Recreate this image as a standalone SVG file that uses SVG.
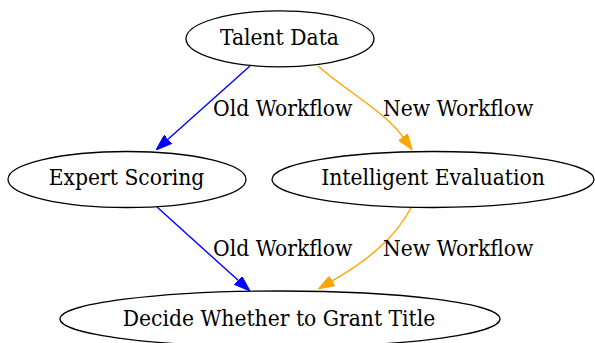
<svg xmlns="http://www.w3.org/2000/svg" width="595" height="343" viewBox="0 0 595 343">
  <style>
    .node ellipse { fill: none; stroke: #000000; stroke-width: 1.3; }
    .node text, .label { font-family: "DejaVu Serif", "Liberation Serif", serif; font-stretch: condensed; font-size: 22.6px; fill: #000000; }
    .node text { text-anchor: middle; }
    .old { fill: none; stroke: #0000ff; stroke-width: 1.4; }
    .new { fill: none; stroke: #ffa500; stroke-width: 1.4; }
  </style>
  <defs>
    <marker id="arrow-blue" markerUnits="userSpaceOnUse" viewBox="0 0 16 11.2" markerWidth="16" markerHeight="11.2" refX="0" refY="5.6" orient="auto">
      <path d="M0,0 L16,5.6 L0,11.2 z" fill="#0000ff" stroke="#0000ff" stroke-width="1"/>
    </marker>
    <marker id="arrow-orange" markerUnits="userSpaceOnUse" viewBox="0 0 16 11.2" markerWidth="16" markerHeight="11.2" refX="0" refY="5.6" orient="auto">
      <path d="M0,0 L16,5.6 L0,11.2 z" fill="#ffa500" stroke="#ffa500" stroke-width="1"/>
    </marker>
  </defs>
  <rect width="595" height="343" fill="#ffffff"/>

  <g id="edges">
    <path class="old" d="M250,66 L168,139.3" marker-end="url(#arrow-blue)"/>
    <path class="new" d="M318,66 C345,90 385,112 402.9,136.9" marker-end="url(#arrow-orange)"/>
    <path class="old" d="M157,207 L238.1,280.3" marker-end="url(#arrow-blue)"/>
    <path class="new" d="M411,208 C401,226 383,252 332.3,280.8" marker-end="url(#arrow-orange)"/>
    <text class="label" x="213" y="115.5">Old Workflow</text>
    <text class="label" x="383" y="115.5">New Workflow</text>
    <text class="label" x="213" y="255.5">Old Workflow</text>
    <text class="label" x="383" y="255.5">New Workflow</text>
  </g>

  <g id="talent-data" class="node">
    <ellipse cx="280" cy="38.8" rx="94" ry="28"/>
    <text x="279.5" y="44.5">Talent Data</text>
  </g>
  <g id="expert-scoring" class="node">
    <ellipse cx="127" cy="179.5" rx="119" ry="28"/>
    <text x="126.5" y="185">Expert Scoring</text>
  </g>
  <g id="intelligent-evaluation" class="node">
    <ellipse cx="433" cy="179.5" rx="161" ry="28"/>
    <text x="433" y="185">Intelligent Evaluation</text>
  </g>
  <g id="decide" class="node">
    <ellipse cx="280" cy="319" rx="220" ry="28"/>
    <text x="279" y="325.5">Decide Whether to Grant Title</text>
  </g>
</svg>
